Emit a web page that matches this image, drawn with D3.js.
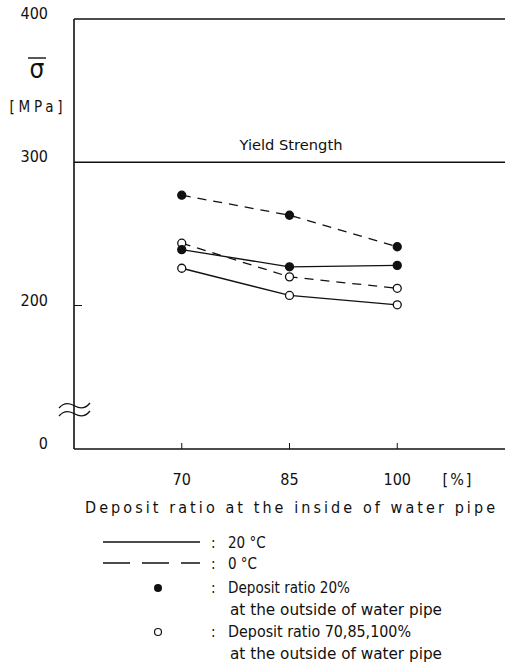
<!DOCTYPE html>
<html>
<head>
<meta charset="utf-8">
<script src="https://cdn.jsdelivr.net/npm/d3@7"></script>
<style>
  body { margin: 0; background: #fff; }
  text { font-family: "DejaVu Sans Condensed", "DejaVu Sans", sans-serif; font-stretch: condensed; fill: #111; }
</style>
</head>
<body>
<svg width="506" height="663"></svg>
<script>
// values
const depositInside = [70, 85, 100];          // x categories [%]
const filled20C = [239, 227, 228];             // solid, deposit 20% outside
const filled0C  = [277, 263, 241];             // dashed, deposit 20% outside
const open20C   = [226, 207, 200.5];           // solid, deposit 70/85/100% outside
const open0C    = [243.5, 220, 212];           // dashed, deposit 70/85/100% outside
const yTickVals = [0, 200, 300, 400];
const yieldStrength = 300;

const svg = d3.select("svg");

// broken axis: 0 sits right under the 200..400 part
const x = d3.scaleLinear().domain([55, 115]).range([74, 505]);
const y = d3.scaleLinear().domain([0, 200, 400]).range([449, 305.5, 19]);

const series = [
  { vals: filled0C,  dash: "9,7", filled: true },
  { vals: open0C,    dash: "9,7", filled: false },
  { vals: filled20C, dash: null,  filled: true },
  { vals: open20C,   dash: null,  filled: false }
];

// frame lines
svg.append("line").attr("x1", x(55)).attr("x2", x(115)).attr("y1", y(400)).attr("y2", y(400))
  .attr("stroke", "#111").attr("stroke-width", 1.6);
svg.append("line").attr("x1", x(55)).attr("x2", x(55)).attr("y1", y(400)).attr("y2", y(0))
  .attr("stroke", "#111").attr("stroke-width", 1.6);
svg.append("line").attr("x1", x(55)).attr("x2", x(115)).attr("y1", y(0)).attr("y2", y(0))
  .attr("stroke", "#111").attr("stroke-width", 1.6);

// yield strength
svg.append("line").attr("x1", x(55)).attr("x2", x(115))
  .attr("y1", y(yieldStrength)).attr("y2", y(yieldStrength))
  .attr("stroke", "#111").attr("stroke-width", 1.5);
svg.append("text").attr("x", 291).attr("y", y(yieldStrength) - 12)
  .attr("text-anchor", "middle").attr("font-size", 14)
  .attr("textLength", 103).attr("lengthAdjust", "spacingAndGlyphs").text("Yield Strength");

// y tick labels
svg.selectAll(".ylab").data(yTickVals).enter().append("text")
  .attr("class", "ylab")
  .attr("x", 48).attr("y", d => y(d))
  .attr("text-anchor", "end").attr("font-size", 16)
  .text(d => d);
svg.append("line").attr("x1", x(55)).attr("x2", x(55) + 8).attr("y1", y(200)).attr("y2", y(200))
  .attr("stroke", "#111").attr("stroke-width", 1);

// break marks
const wave = (yy) => `M59,${yy + 2} C64,${yy - 4} 70,${yy - 3} 75,${yy} S85,${yy + 3} 90,${yy - 3}`;
[406, 414].forEach(yy => {
  svg.append("path").attr("d", wave(yy)).attr("fill", "none").attr("stroke", "#111").attr("stroke-width", 1.3);
});

// x ticks and labels
svg.selectAll(".xt").data(depositInside).enter().append("line")
  .attr("x1", d => x(d)).attr("x2", d => x(d)).attr("y1", y(0)).attr("y2", y(0) - 6)
  .attr("stroke", "#111").attr("stroke-width", 1);
svg.selectAll(".xlab").data(depositInside).enter().append("text")
  .attr("x", d => x(d)).attr("y", 485).attr("text-anchor", "middle").attr("font-size", 16)
  .text(d => d);
svg.append("text").attr("x", 458).attr("y", 485).attr("text-anchor", "middle").attr("font-size", 16)
  .attr("letter-spacing", 2).text("[%]");

// y axis title
svg.append("text").attr("x", 37).attr("y", 78).attr("text-anchor", "middle").attr("font-size", 26)
  .attr("font-family", "DejaVu Sans").text("σ");
svg.append("line").attr("x1", 28).attr("x2", 46).attr("y1", 58).attr("y2", 58)
  .attr("stroke", "#111").attr("stroke-width", 1.4);
svg.append("text").attr("x", 36).attr("y", 112).attr("text-anchor", "middle").attr("font-size", 15)
  .attr("textLength", 53).attr("lengthAdjust", "spacing").text("[MPa]");

// x axis title
svg.append("text").attr("x", 85).attr("y", 513).attr("font-size", 16)
  .attr("textLength", 410).attr("lengthAdjust", "spacing")
  .text("Deposit ratio at the inside of water pipe");

// series
const line = d3.line().x((d, i) => x(depositInside[i])).y(d => y(d));
series.forEach(s => {
  svg.append("path").attr("d", line(s.vals)).attr("fill", "none")
    .attr("stroke", "#111").attr("stroke-width", 1.3)
    .attr("stroke-dasharray", s.dash);
});
series.forEach(s => {
  svg.selectAll(null).data(s.vals).enter().append("circle")
    .attr("cx", (d, i) => x(depositInside[i])).attr("cy", d => y(d)).attr("r", 4)
    .attr("fill", s.filled ? "#111" : "#fff").attr("stroke", "#111").attr("stroke-width", 1.3);
});

// legend
const lg = svg.append("g");
lg.append("line").attr("x1", 103).attr("x2", 200).attr("y1", 542).attr("y2", 542)
  .attr("stroke", "#111").attr("stroke-width", 1.3);
lg.append("line").attr("x1", 103).attr("x2", 200).attr("y1", 563).attr("y2", 563)
  .attr("stroke", "#111").attr("stroke-width", 1.3).attr("stroke-dasharray", "27,12");
lg.append("circle").attr("cx", 158).attr("cy", 588).attr("r", 4).attr("fill", "#111");
lg.append("circle").attr("cx", 158).attr("cy", 632).attr("r", 3.5).attr("fill", "#fff")
  .attr("stroke", "#111").attr("stroke-width", 1.2);

const legendRows = [
  [548, ":", "20 °C", 0],
  [569, ":", "0 °C", 0],
  [593, ":", "Deposit ratio 20%", 122],
  [615, "", "at the outside of water pipe", 212],
  [637, ":", "Deposit ratio 70,85,100%", 183],
  [659, "", "at the outside of water pipe", 212]
];
legendRows.forEach(r => {
  lg.append("text").attr("x", 211).attr("y", r[0]).attr("font-size", 15).text(r[1]);
  const t = lg.append("text").attr("x", r[1] ? 228 : 230).attr("y", r[0]).attr("font-size", 15).text(r[2]);
  if (r[3]) t.attr("textLength", r[3]).attr("lengthAdjust", "spacingAndGlyphs");
});
</script>
</body>
</html>
